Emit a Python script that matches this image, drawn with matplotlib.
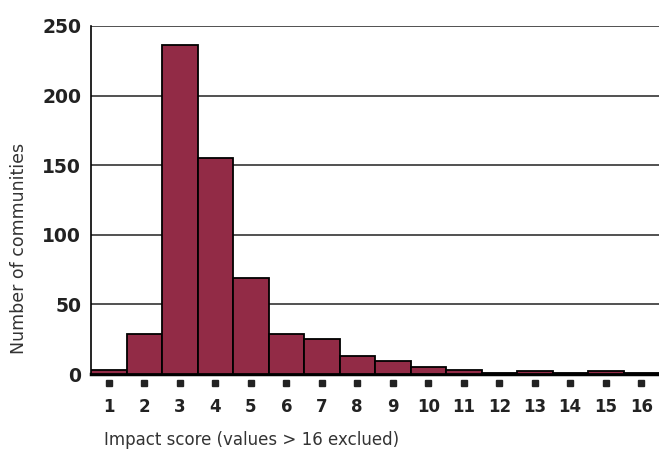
import matplotlib
matplotlib.use("Agg")
import matplotlib.pyplot as plt
import matplotlib.transforms as mtransforms

scores = list(range(1, 17))
counts = [3, 29, 236, 155, 69, 29, 25, 13, 9, 5, 3, 0.5, 2, 0.5, 2, 0.5]
yticks = [0, 50, 100, 150, 200, 250]

bar_color = "#922B46"

fig = plt.figure(figsize=(6.59, 4.62), dpi=100)
ax = fig.add_axes([91/659, 1-374/462, 568/659, 348/462])

ax.bar(scores, counts, width=1.0, color=bar_color, edgecolor="black",
       linewidth=1.3, zorder=3)
ax.set_xlim(0.5, 16.5)
ax.set_ylim(0, 250)
ax.set_yticks(yticks)
ax.yaxis.grid(True, color="#222222", linewidth=1.1, zorder=0)
ax.set_axisbelow(True)

for s in ["top", "right"]:
    ax.spines[s].set_visible(False)
ax.spines["left"].set_linewidth(1.2)
ax.spines["bottom"].set_linewidth(2.5)

ax.tick_params(axis="y", length=0, pad=7, labelsize=13.5)
for lbl in ax.get_yticklabels():
    lbl.set_fontfamily("DejaVu Sans")
    lbl.set_fontweight("bold")
    lbl.set_color("#222222")

ax.set_xticks(scores)
ax.set_xticklabels([str(s) for s in scores], fontsize=12, fontweight="bold",
                   family="DejaVu Sans", color="#222222")
ax.tick_params(axis="x", length=0, pad=17)

# small square tick markers below the axis
trans = mtransforms.blended_transform_factory(ax.transData, ax.transAxes)
ax.plot(scores, [-0.026] * len(scores), linestyle="none", marker="s",
        markersize=4.5, color="#222222", transform=trans, clip_on=False)

fig.text(19/659, 1-248/462, "Number of communities", rotation=90,
         ha="center", va="center", fontsize=12.5, color="#333333",
         family="DejaVu Sans")
fig.text(252/659, 1-440/462, "Impact score (values > 16 exclued)",
         ha="center", va="center", fontsize=12, color="#333333",
         family="DejaVu Sans")

fig.savefig("out.png", dpi=100)
